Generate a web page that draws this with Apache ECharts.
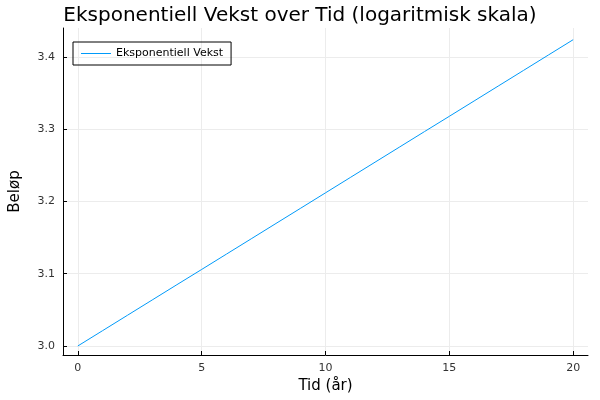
<!DOCTYPE html>
<html>
<head>
<meta charset="utf-8">
<script src="https://cdn.jsdelivr.net/npm/echarts@6/dist/echarts.min.js"></script>
<style>html,body{margin:0;padding:0;background:#fff}#chart{width:600px;height:400px}</style>
</head>
<body>
<div id="chart"></div>
<script>
// år og log10 av beløp
const years = [0,1,2,3,4,5,6,7,8,9,10,11,12,13,14,15,16,17,18,19,20];
const logAmount = [3.0000,3.0212,3.0424,3.0636,3.0848,3.1059,3.1271,3.1483,3.1695,3.1907,
  3.2119,3.2331,3.2543,3.2755,3.2967,3.3178,3.3390,3.3602,3.3814,3.4026,3.4238];
const xTicks = [0,5,10,15,20];
const yTicks = [3.0,3.1,3.2,3.3,3.4];

const chart = echarts.init(document.getElementById('chart'));
const font = 'DejaVu Sans';
chart.setOption({
  animation: false,
  textStyle: { fontFamily: font },
  title: { text: 'Eksponentiell Vekst over Tid (logaritmisk skala)', left: 'center', top: 1,
    textStyle: { fontSize: 20, fontWeight: 'normal', color: '#000', fontFamily: font } },
  legend: { left: 73, top: 42, orient: 'vertical', itemWidth: 30, itemHeight: 10,
    borderColor: '#000', borderWidth: 1, padding: [6, 8], borderRadius: 0,
    textStyle: { fontSize: 11, color: '#000' },
    data: [{ name: 'Eksponentiell Vekst', icon: 'path://M0,5L30,5L30,6L0,6Z' }] },
  grid: { left: 55, right: 12, top: 28, bottom: 45, containLabel: false },
  xAxis: { type: 'value', min: -0.6, max: 20.6,
    name: 'Tid (år)', nameLocation: 'middle', nameGap: 24,
    nameTextStyle: { fontSize: 15, color: '#000' },
    axisLine: { show: true, onZero: false, lineStyle: { color: '#000' } },
    axisTick: { show: true, inside: true, length: 4, customValues: xTicks, lineStyle: { color: '#000' } },
    axisLabel: { customValues: xTicks, color: '#333', fontSize: 11 },
    splitLine: { show: true, lineStyle: { color: '#ececec' } } },
  yAxis: { type: 'value', min: 2.9875, max: 3.44,
    name: 'Beløp', nameLocation: 'middle', nameGap: 40,
    nameTextStyle: { fontSize: 15, color: '#000' },
    axisLine: { show: true, onZero: false, lineStyle: { color: '#000' } },
    axisTick: { show: true, inside: true, length: 4, customValues: yTicks, lineStyle: { color: '#000' } },
    axisLabel: { customValues: yTicks, color: '#333', fontSize: 11, formatter: v => v.toFixed(1) },
    splitLine: { show: true, lineStyle: { color: '#ececec' } } },
  series: [{ name: 'Eksponentiell Vekst', type: 'line', showSymbol: false,
    color: '#009af9', lineStyle: { width: 1 },
    data: years.map((y, i) => [y, logAmount[i]]) }]
});
</script>
</body>
</html>
